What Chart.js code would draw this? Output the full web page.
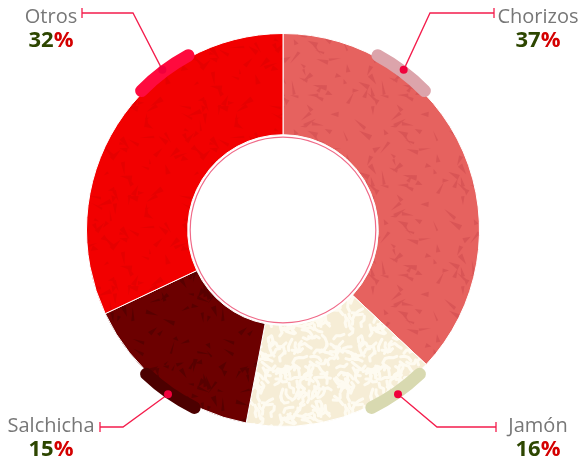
<!DOCTYPE html>
<html lang="es">
<head>
<meta charset="UTF-8">
<title>Embutidos</title>
<script src="https://cdn.jsdelivr.net/npm/chart.js"></script>
<style>
  html, body { margin: 0; padding: 0; background: #fff; }
  #wrap { width: 579px; height: 460px; }
</style>
</head>
<body>
<div id="wrap"><canvas id="donut" width="579" height="460"></canvas></div>
<script>
  // data
  const categories = ['Chorizos', 'Jamón', 'Salchicha', 'Otros'];
  const shares = [37, 16, 15, 32];

  // styles
  const sliceBase = ['#e6625f', '#f6edd6', '#6c0000', '#f20000'];
  const sliceMark = ['#d95556', '#fefbf1', '#580000', '#e60000'];
  const textureKind = ['shards', 'maze', 'shards', 'shards'];
  const highlight = ['#dca4ab', '#d8d9b0', '#4c0000', '#ff0a3e'];
  const corners = [
    { angle: 37,  elbowX: 430, lineY: 13,  tickX: 494, textX: 538, top: true },
    { angle: 145, elbowX: 437, lineY: 427, tickX: 496, textX: 538, top: false },
    { angle: 215, elbowX: 123, lineY: 427, tickX: 100, textX: 51,  top: false },
    { angle: 323, elbowX: 133, lineY: 13,  tickX: 82,  textX: 51,  top: true }
  ];

  // small seeded generator, only for the fill textures
  function seeded(s) {
    return function () {
      s |= 0; s = s + 0x6D2B79F5 | 0;
      let t = Math.imul(s ^ s >>> 15, 1 | s);
      t = t + Math.imul(t ^ t >>> 7, 61 | t) ^ t;
      return ((t ^ t >>> 14) >>> 0) / 4294967296;
    };
  }

  function makeTexture(base, mark, kind, seed) {
    const T = 90;
    const c = document.createElement('canvas');
    c.width = T; c.height = T;
    const g = c.getContext('2d');
    g.fillStyle = base;
    g.fillRect(0, 0, T, T);
    const rnd = seeded(seed);
    const offs = [-T, 0, T];
    if (kind === 'shards') {
      g.fillStyle = mark;
      for (let k = 0; k < 42; k++) {
        const x = rnd() * T, y = rnd() * T;
        const a = rnd() * Math.PI * 2, len = 5 + rnd() * 10, w = 2 + rnd() * 4;
        offs.forEach(ox => offs.forEach(oy => {
          g.beginPath();
          g.moveTo(x + ox, y + oy);
          g.lineTo(x + ox + Math.cos(a) * len, y + oy + Math.sin(a) * len);
          g.lineTo(x + ox + Math.cos(a + 1.3) * w, y + oy + Math.sin(a + 1.3) * w);
          g.closePath();
          g.fill();
        }));
      }
    } else {
      // worm-like maze
      g.strokeStyle = mark;
      g.lineCap = 'round';
      g.lineJoin = 'round';
      g.lineWidth = 3;
      for (let k = 0; k < 120; k++) {
        let x = rnd() * T, y = rnd() * T;
        let a = rnd() * Math.PI * 2;
        const pts = [[x, y]];
        for (let s = 0; s < 3; s++) {
          a += (rnd() - 0.5) * 2.4;
          x += Math.cos(a) * 4; y += Math.sin(a) * 4;
          pts.push([x, y]);
        }
        offs.forEach(ox => offs.forEach(oy => {
          g.beginPath();
          pts.forEach((p, j) => j ? g.lineTo(p[0] + ox, p[1] + oy) : g.moveTo(p[0] + ox, p[1] + oy));
          g.stroke();
        }));
      }
    }
    return g.createPattern(c, 'repeat');
  }

  const patterns = sliceBase.map((b, i) => makeTexture(b, sliceMark[i], textureKind[i], 11 + i * 7));

  const decor = {
    id: 'decor',
    afterDatasetsDraw(chart) {
      const ctx = chart.ctx;
      const arc0 = chart.getDatasetMeta(0).data[0];
      const cx = arc0.x, cy = arc0.y, R = arc0.outerRadius, r = arc0.innerRadius;
      ctx.save();

      // thin ring inside the hole
      ctx.beginPath();
      ctx.arc(cx, cy, r - 2.5, 0, Math.PI * 2);
      ctx.strokeStyle = '#f06a88';
      ctx.lineWidth = 1.2;
      ctx.stroke();

      categories.forEach((name, i) => {
        const c = corners[i];
        const th = c.angle * Math.PI / 180;
        const a = th - Math.PI / 2;
        const span = 8.5 * Math.PI / 180;
        const px = cx + (R + 4) * Math.sin(th);
        const py = cy - (R + 4) * Math.cos(th);

        // leader line
        ctx.beginPath();
        ctx.moveTo(px, py);
        ctx.lineTo(c.elbowX, c.lineY);
        ctx.lineTo(c.tickX, c.lineY);
        ctx.moveTo(c.tickX, c.lineY - 5);
        ctx.lineTo(c.tickX, c.lineY + 5);
        ctx.strokeStyle = '#f41d4c';
        ctx.lineWidth = 1.3;
        ctx.lineCap = 'butt';
        ctx.stroke();

        // highlight arc on the rim
        ctx.beginPath();
        ctx.arc(cx, cy, R + 2, a - span, a + span);
        ctx.strokeStyle = highlight[i];
        ctx.lineWidth = 12.5;
        ctx.lineCap = 'round';
        ctx.stroke();

        // dot
        ctx.beginPath();
        ctx.arc(px, py, 4, 0, Math.PI * 2);
        ctx.fillStyle = '#f0003c';
        ctx.fill();

        // labels
        const nameY = c.top ? 23 : 432;
        const pctY = c.top ? 47 : 456;
        ctx.textAlign = 'center';
        ctx.textBaseline = 'alphabetic';
        ctx.font = '20px "Open Sans", sans-serif';
        ctx.fillStyle = '#777777';
        ctx.fillText(name, c.textX, nameY);

        ctx.font = 'bold 22px "Open Sans", sans-serif';
        const num = String(shares[i]);
        const wNum = ctx.measureText(num).width;
        const wPct = ctx.measureText('%').width;
        const x0 = c.textX - (wNum + wPct) / 2;
        ctx.textAlign = 'left';
        ctx.fillStyle = '#2d4600';
        ctx.fillText(num, x0, pctY);
        ctx.fillStyle = '#d40000';
        ctx.fillText('%', x0 + wNum, pctY);
      });
      ctx.restore();
    }
  };

  new Chart(document.getElementById('donut'), {
    type: 'doughnut',
    data: {
      labels: categories,
      datasets: [{
        data: shares,
        backgroundColor: patterns,
        borderColor: '#ffffff',
        borderWidth: 1
      }]
    },
    options: {
      responsive: false,
      animation: false,
      cutout: '48.5%',
      layout: { padding: { left: 86, right: 99, top: 33, bottom: 33 } },
      plugins: {
        legend: { display: false },
        tooltip: { enabled: false }
      }
    },
    plugins: [decor]
  });
</script>
</body>
</html>
